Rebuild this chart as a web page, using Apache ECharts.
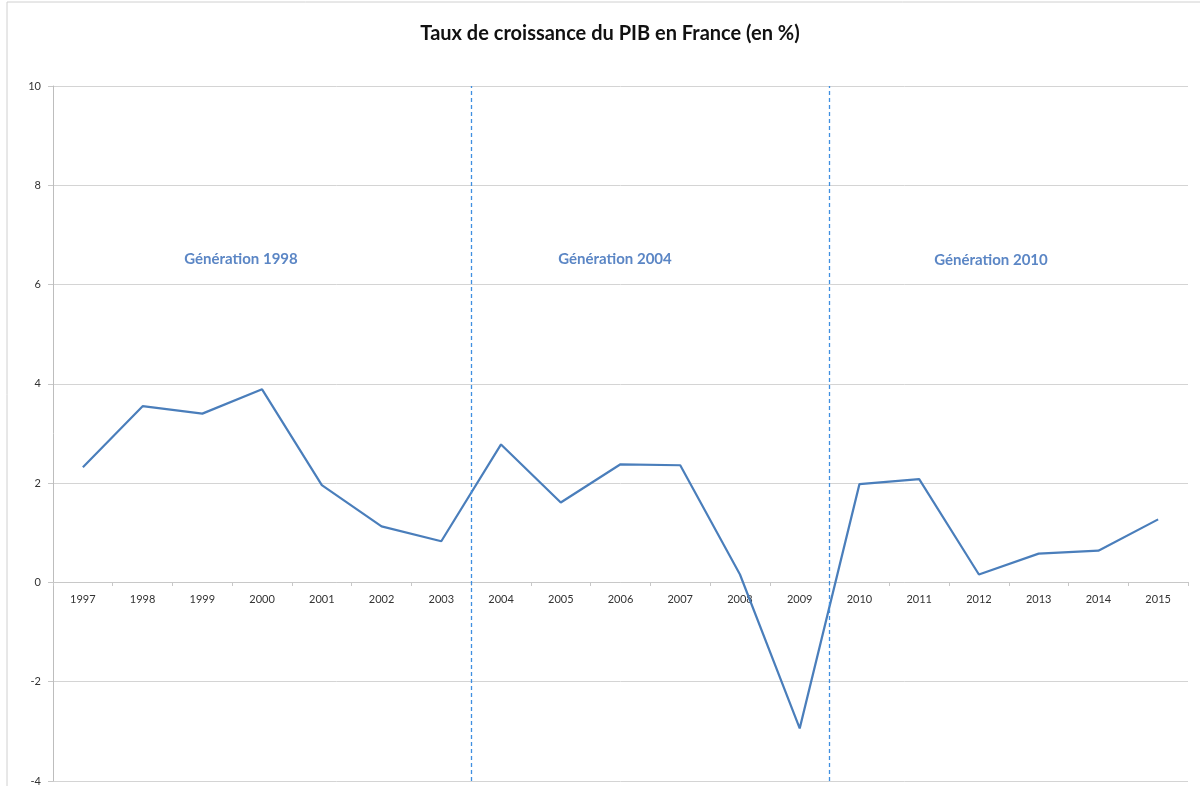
<!DOCTYPE html>
<html>
<head>
<meta charset="utf-8">
<script src="https://cdn.jsdelivr.net/npm/echarts@6/dist/echarts.min.js"></script>
<style>
  html, body { margin: 0; padding: 0; background: #fff; }
  #main { width: 1200px; height: 786px; }
</style>
</head>
<body>
<div id="main"></div>
<script>
  // données
  const years = ['1997','1998','1999','2000','2001','2002','2003','2004','2005','2006',
                 '2007','2008','2009','2010','2011','2012','2013','2014','2015'];
  const growth = [2.32, 3.55, 3.40, 3.89, 1.96, 1.13, 0.83, 2.78, 1.61, 2.38,
                  2.36, 0.16, -2.94, 1.98, 2.08, 0.16, 0.58, 0.64, 1.27];
  const separators = [6.5, 12.5];
  const generations = ['Génération 1998', 'Génération 2004', 'Génération 2010'];

  const chart = echarts.init(document.getElementById('main'));
  const blue = '#4a7ebb';
  const sepBlue = '#3f8fe0';

  chart.setOption({
    animation: false,
    title: {
      text: 'Taux de croissance du PIB en France (en %)',
      left: 605, top: 19, textAlign: 'center',
      textStyle: { fontFamily: 'Lato', fontSize: 20, fontWeight: 'bold', color: '#111' }
    },
    grid: { left: 53, right: 12, top: 86, bottom: 5, containLabel: false, outerBoundsMode: 'none' },
    graphic: [
      { type: 'rect', shape: { x: 7, y: 2, width: 1200, height: 800 },
        style: { fill: 'none', stroke: '#d0d0d0', lineWidth: 1 }, silent: true },
      { type: 'text', x: 241, y: 259, style: { text: generations[0], align: 'center', verticalAlign: 'middle',
        fill: '#5b86c5', font: 'bold 15px Lato' } },
      { type: 'text', x: 615, y: 259, style: { text: generations[1], align: 'center', verticalAlign: 'middle',
        fill: '#5b86c5', font: 'bold 15px Lato' } },
      { type: 'text', x: 991, y: 260, style: { text: generations[2], align: 'center', verticalAlign: 'middle',
        fill: '#5b86c5', font: 'bold 15px Lato' } }
    ],
    xAxis: [{
      type: 'category',
      data: years,
      boundaryGap: true,
      position: 'bottom',
      offset: -199,
      axisLine: { onZero: false, lineStyle: { color: '#c8c8c8' } },
      axisTick: { show: true, length: 4, lineStyle: { color: '#c8c8c8' } },
      axisLabel: { color: '#333', fontSize: 11, fontFamily: 'Lato', margin: 12, interval: 0 },
      splitLine: { show: false }
    }, {
      // axe caché pour placer les séparateurs entre deux années
      type: 'value',
      min: -0.5, max: years.length - 0.5,
      show: false
    }],
    yAxis: {
      type: 'value',
      min: -4, max: 10, interval: 2,
      axisLine: { show: true, onZero: false, lineStyle: { color: '#bdbdbd' } },
      axisTick: { show: true, length: 5, lineStyle: { color: '#c8c8c8' } },
      axisLabel: { color: '#333', fontSize: 11, fontFamily: 'Lato', margin: 12 },
      splitLine: { show: true, lineStyle: { color: '#d4d4d4', width: 1 } }
    },
    series: [{
      type: 'line',
      data: growth,
      symbol: 'none',
      lineStyle: { color: blue, width: 2.2 },
      z: 3
    }, {
      type: 'line',
      xAxisIndex: 1,
      data: [],
      symbol: 'none',
      color: sepBlue,
      markLine: {
        silent: true,
        symbol: 'none',
        label: { show: false },
        lineStyle: { color: sepBlue, type: [4, 3], width: 1.3, opacity: 1 },
        data: separators.map(v => ({ xAxis: v }))
      }
    }]
  });
</script>
</body>
</html>
